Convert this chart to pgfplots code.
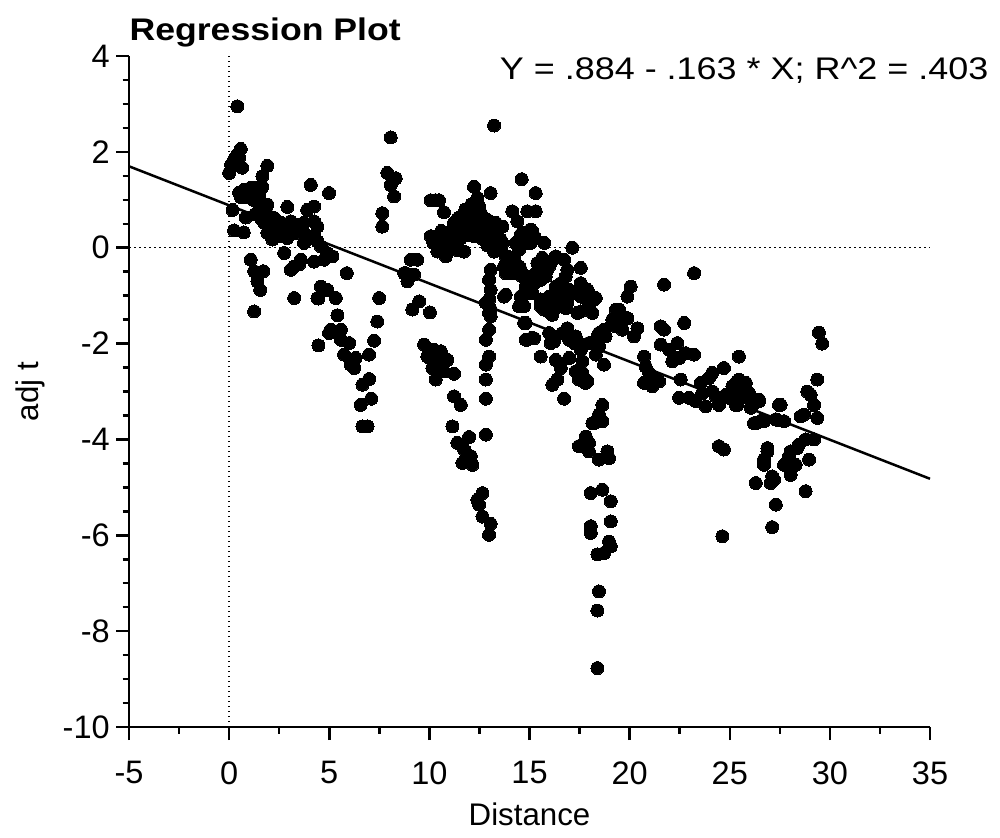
\documentclass[border=0pt]{standalone}
\usepackage{fontspec}
\setmainfont{Liberation Sans}
\usepackage{pgfplots}
\pgfplotsset{compat=1.18}
\pgfplotstableread{
x y
0.41 2.95
0.58 2.06
0.40 1.94
0.25 1.84
0.10 1.73
0.00 1.56
0.65 1.67
0.50 1.88
1.91 1.71
1.66 1.49
1.66 1.27
0.75 1.21
1.08 1.25
1.25 1.15
0.90 1.06
0.50 1.15
1.40 0.96
1.00 1.15
1.20 1.00
0.60 1.05
1.50 1.10
1.30 1.25
0.17 0.79
0.25 0.36
0.73 0.32
0.83 0.63
1.91 0.90
1.91 0.69
1.50 0.80
1.60 0.60
1.30 0.70
2.91 0.85
4.08 1.31
4.99 1.14
4.24 0.86
3.90 0.79
2.25 0.62
2.58 0.52
3.08 0.55
3.41 0.48
3.74 0.52
4.24 0.55
4.41 0.44
1.75 0.52
1.91 0.31
2.16 0.17
2.58 0.24
3.08 0.31
3.74 0.31
3.91 0.20
4.24 0.24
3.74 0.10
4.41 0.13
4.58 0.03
2.00 0.45
2.40 0.35
2.80 0.45
2.20 0.30
2.90 0.20
3.30 0.30
2.75 -0.11
4.24 -0.29
4.74 -0.25
4.91 -0.11
5.16 -0.18
1.08 -0.25
1.25 -0.49
1.71 -0.49
1.41 -0.70
1.55 -0.88
3.08 -0.46
3.25 -0.39
3.58 -0.25
3.49 -0.35
4.58 -0.81
4.91 -0.88
3.25 -1.05
4.41 -1.05
5.33 -1.05
5.88 -0.53
7.49 -1.05
8.07 2.30
7.90 1.56
8.32 1.45
8.07 1.31
8.24 1.07
7.65 0.72
7.65 0.44
9.07 -0.25
8.82 -0.53
8.90 -0.70
1.25 -1.33
4.46 -1.06
9.15 -1.29
5.41 -1.41
5.08 -1.71
5.58 -1.71
4.99 -1.78
5.58 -1.92
5.99 -1.99
4.46 -2.04
5.74 -2.23
6.32 -2.30
6.99 -2.23
6.07 -2.44
6.24 -2.51
7.40 -1.54
7.24 -1.94
6.99 -2.74
6.66 -2.86
7.10 -3.15
6.57 -3.28
6.66 -3.73
6.91 -3.73
13.23 2.55
14.61 1.43
15.31 1.14
12.23 1.27
13.06 1.14
12.40 1.04
10.07 0.99
10.48 0.99
10.30 0.99
10.73 0.74
11.57 0.65
11.90 0.72
12.23 0.79
12.57 0.72
12.90 0.58
13.23 0.52
13.65 0.44
11.23 0.52
11.15 0.38
11.57 0.44
12.07 0.52
12.40 0.48
12.73 0.38
10.07 0.24
10.40 0.17
10.90 0.06
11.57 0.20
11.90 0.27
12.23 0.24
10.40 -0.08
10.82 -0.18
11.73 -0.08
13.06 0.24
13.23 0.10
13.56 0.17
13.23 -0.08
13.56 0.00
11.40 0.60
11.70 0.55
12.00 0.40
12.30 0.60
12.60 0.55
12.90 0.40
12.60 0.20
11.20 0.15
11.00 0.30
12.90 0.05
13.40 0.30
12.10 0.90
12.50 0.85
11.80 0.80
10.20 0.10
10.60 0.35
11.40 -0.05
14.14 0.76
14.39 0.55
14.89 0.76
15.31 0.76
14.56 0.27
14.39 0.10
14.73 0.17
15.06 0.38
15.23 0.24
15.06 0.10
15.73 0.10
17.14 0.00
16.73 -0.25
17.56 -0.42
9.40 -0.25
8.74 -0.53
9.24 -0.56
9.49 -1.12
10.03 -1.35
13.90 -0.18
13.73 -0.39
14.23 -0.32
14.06 -0.53
14.56 -0.46
14.89 -0.60
13.06 -0.46
12.98 -0.67
13.06 -0.88
12.98 -1.08
13.06 -1.29
13.06 -1.43
13.81 -0.98
14.56 -1.02
14.89 -0.88
15.23 -0.74
15.56 -0.67
15.89 -0.46
15.73 -0.39
15.39 -0.32
16.06 -0.32
14.48 -1.22
14.73 -1.57
15.56 -1.08
15.89 -1.22
16.06 -1.36
16.39 -1.22
16.56 -1.02
16.89 -1.15
16.73 -0.81
17.23 -0.95
17.56 -1.02
17.90 -1.08
17.39 -1.36
17.56 -0.74
17.90 -0.88
16.89 -1.68
9.74 -2.02
9.90 -2.27
10.23 -2.13
10.57 -2.16
10.40 -2.34
10.90 -2.34
10.15 -2.51
10.73 -2.58
10.32 -2.75
11.23 -2.63
10.60 -2.40
10.00 -2.30
11.23 -3.10
11.57 -3.28
11.15 -3.73
11.40 -4.07
11.98 -3.95
11.73 -4.21
12.07 -4.35
11.65 -4.49
12.15 -4.53
12.82 -1.15
12.98 -1.36
12.98 -1.71
12.82 -1.92
12.98 -2.27
12.82 -2.44
12.82 -2.75
12.82 -3.15
12.82 -3.90
12.65 -5.12
12.40 -5.26
12.48 -5.36
12.65 -5.61
13.06 -5.76
12.98 -5.99
14.89 -1.92
15.23 -1.89
15.56 -2.27
16.22 -1.96
16.31 -2.34
16.56 -2.51
16.14 -2.86
16.73 -3.15
16.39 -2.75
16.89 -1.75
17.23 -1.99
16.98 -2.30
17.31 -2.58
17.64 -2.75
17.89 -2.78
15.56 -1.22
15.89 -1.15
16.22 -1.29
18.14 -3.66
17.81 -3.94
17.97 -4.25
18.06 -5.12
18.06 -5.81
18.06 -5.95
17.72 -0.95
18.06 -1.05
18.22 -1.08
17.97 -1.26
17.56 -1.33
18.14 -1.36
20.05 -0.81
19.89 -1.02
21.72 -0.77
23.22 -0.53
19.47 -1.29
19.89 -1.47
19.14 -1.50
19.31 -1.64
19.64 -1.71
20.39 -1.68
20.22 -1.85
18.72 -1.71
18.39 -1.85
18.31 -2.02
18.47 -2.06
17.97 -1.99
17.72 -2.02
17.56 -2.13
18.31 -2.23
18.72 -2.44
17.64 -2.37
17.64 -2.61
17.81 -2.82
17.47 -2.75
21.55 -1.64
21.72 -1.71
22.72 -1.57
22.38 -1.99
21.55 -2.02
21.97 -2.13
22.13 -2.37
22.47 -2.30
22.80 -2.20
23.22 -2.23
25.46 -2.27
24.71 -2.51
24.13 -2.61
23.96 -2.72
20.72 -2.27
20.80 -2.48
20.97 -2.61
20.72 -2.82
21.30 -2.72
21.47 -2.79
21.13 -2.89
22.55 -2.75
22.47 -3.13
22.97 -3.13
23.30 -3.20
23.55 -2.82
23.63 -3.03
23.80 -3.31
24.13 -3.00
24.30 -3.10
24.46 -3.28
24.80 -3.07
25.13 -2.89
25.30 -3.10
25.46 -2.75
25.80 -2.82
25.96 -3.03
26.13 -3.28
26.46 -3.17
26.71 -3.62
26.30 -3.66
27.46 -3.28
27.30 -3.58
25.30 -3.28
18.64 -3.28
18.47 -3.48
18.22 -3.66
18.64 -3.62
17.97 -4.07
17.47 -4.14
24.46 -4.14
26.88 -4.18
18.47 -4.42
18.89 -4.25
18.97 -4.39
18.64 -5.05
19.06 -5.29
19.06 -5.71
18.97 -6.13
19.06 -6.23
18.72 -6.37
18.39 -6.40
18.47 -7.17
18.39 -7.57
18.39 -8.77
29.45 -1.77
29.62 -2.00
25.30 -2.82
25.55 -2.79
25.13 -3.00
25.71 -3.00
24.96 -3.13
25.38 -3.28
25.88 -3.13
26.05 -3.34
26.46 -3.20
26.21 -3.66
26.63 -3.59
27.54 -3.28
27.37 -3.59
27.71 -3.62
28.54 -3.52
28.71 -3.48
29.37 -2.75
28.87 -3.00
29.04 -3.07
29.21 -3.28
29.37 -3.55
29.21 -4.00
28.79 -4.00
28.45 -4.11
28.37 -4.18
28.04 -4.25
27.96 -4.35
27.87 -4.53
28.29 -4.53
28.96 -4.42
28.04 -4.74
27.71 -4.53
26.88 -4.25
26.71 -4.42
26.71 -4.53
27.12 -4.77
27.04 -4.91
27.21 -4.84
26.30 -4.91
28.79 -5.08
27.30 -5.36
27.12 -5.83
24.63 -6.02
24.71 -4.21
13.31 0.52
13.31 0.24
13.65 0.10
13.40 -0.04
14.64 0.31
15.14 0.34
14.31 0.10
14.48 -0.04
14.98 0.10
13.81 -0.18
14.23 -0.21
15.64 -0.21
16.31 -0.18
13.81 -0.53
14.23 -0.53
14.48 -0.39
14.64 -0.60
15.31 -0.53
15.64 -0.46
15.98 -0.39
15.81 -0.60
16.89 -0.46
16.56 -0.74
16.98 -0.88
17.81 -1.02
17.31 -0.95
18.31 -1.05
16.31 -0.81
16.81 -0.60
13.73 -1.02
14.81 -0.81
14.64 -1.02
15.14 -0.95
15.98 -1.02
16.31 -1.22
15.73 -1.29
16.14 -1.40
16.81 -1.26
17.97 -1.22
14.73 -1.22
14.81 -1.57
15.14 -1.88
14.81 -1.92
15.98 -1.78
16.06 -1.99
16.64 -1.78
16.98 -1.92
17.31 -1.85
17.97 -1.99
18.47 -1.78
18.80 -1.85
19.31 -1.29
19.14 -1.57
19.47 -1.50
}\pts
\begin{document}
\begin{tikzpicture}
\begin{axis}[
  scale only axis,
  width=320.4pt, height=268.4pt,
  xmin=-5, xmax=35, ymin=-10, ymax=4,
  axis x line*=bottom, axis y line*=left,
  axis line style={line width=1pt},
  xtick={-5,0,...,35}, ytick={-10,-8,...,4},
  minor x tick num=1, minor y tick num=3,
  tick align=outside,
  major tick length=5.2pt, minor tick length=2.6pt,
  every tick/.style={black, line width=1pt},
  /pgf/number format/assume math mode=true,
  tick label style={font=\fontsize{13}{15}\selectfont},
  xticklabel style={yshift=-5pt},
  yticklabel style={xshift=1pt},
  xlabel={Distance}, ylabel={adj t},
  every axis x label/.style={at={(axis description cs:0.5,-0.1304)}, anchor=center, font=\fontsize{12.5}{14}\selectfont},
  every axis y label/.style={at={(axis description cs:-0.1236,0.5)}, anchor=center, rotate=90, font=\fontsize{12.5}{14}\selectfont},
  clip=false,
]
\addplot[black, line width=0.6pt, dash pattern=on 0.6pt off 1.4pt] coordinates {(0,-10) (0,4)};
\addplot[black, line width=0.6pt, dash pattern=on 0.6pt off 1.4pt] coordinates {(-5,0) (35,0)};
\addplot[black, line width=1pt] coordinates {(-5,1.699) (35,-4.821)};
\addplot[only marks, mark=*, mark size=2.6pt, mark options={fill=black, draw=black, line width=0pt}] table[x=x, y=y] {\pts};
\node[anchor=base west, font=\bfseries\fontsize{12.5}{14}\selectfont, inner sep=0pt, xscale=1.14] at ([yshift=6.4pt]rel axis cs:0,1) {Regression Plot};
\node[anchor=base east, font=\fontsize{12.5}{14}\selectfont, inner sep=0pt, xscale=1.15] at (axis cs:37.94,3.52) {Y = .884 - .163 * X; R\^{}2 = .403};
\coordinate (SW) at (rel axis cs:0,0);
\coordinate (NE) at (rel axis cs:1,1);
\end{axis}
\pgfresetboundingbox
\path[use as bounding box] ([xshift=-51.6pt,yshift=-44pt]SW) rectangle ([xshift=28pt,yshift=22.4pt]NE);
\end{tikzpicture}
\end{document}
